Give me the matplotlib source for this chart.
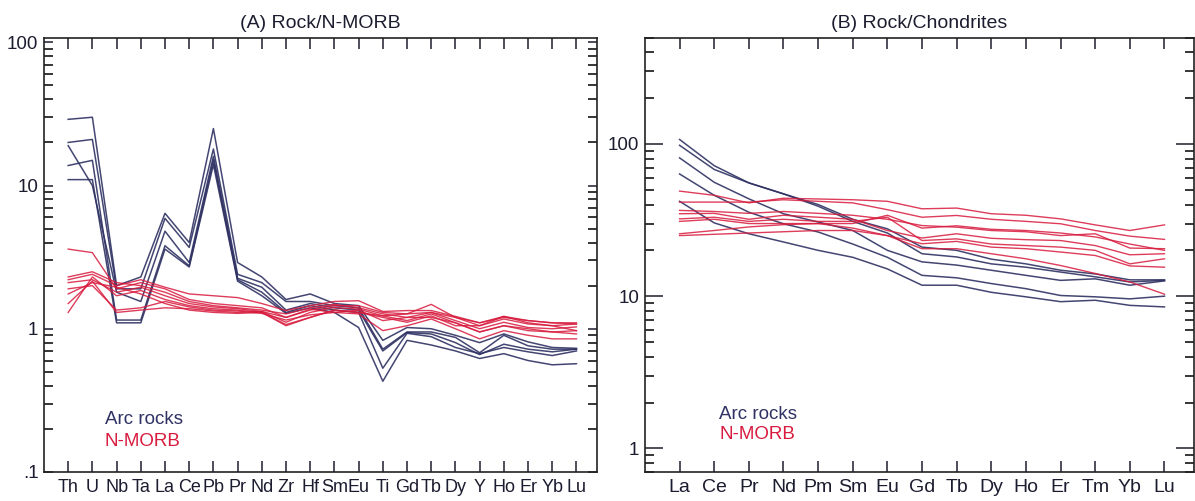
import matplotlib
matplotlib.use('Agg')
import matplotlib.pyplot as plt
from matplotlib.ticker import FixedLocator, FixedFormatter, LogLocator, NullFormatter
import numpy as np

plt.rcParams['font.family'] = ['Liberation Sans', 'DejaVu Sans']

navy = '#2f3263'
red = '#d81b3e'
txt = '#1c1c30'

# ---- (A) Rock/N-MORB ----
morb_elements = ['Th', 'U', 'Nb', 'Ta', 'La', 'Ce', 'Pb', 'Pr', 'Nd', 'Zr', 'Hf',
                 'Sm', 'Eu', 'Ti', 'Gd', 'Tb', 'Dy', 'Y', 'Ho', 'Er', 'Yb', 'Lu']

arc_morb = [
    [29, 30, 2.0, 2.3, 6.4, 4.0, 25, 2.9, 2.3, 1.6, 1.75, 1.5, 1.45, 0.83, 1.02, 1.0, 0.9, 0.8, 0.92, 0.81, 0.74, 0.73],
    [20, 21, 1.9, 1.9, 5.9, 3.7, 18, 2.4, 2.1, 1.55, 1.55, 1.45, 1.4, 0.72, 0.95, 0.95, 0.87, 0.68, 0.9, 0.76, 0.72, 0.72],
    [19, 10, 1.8, 1.55, 4.8, 2.9, 16, 2.25, 1.95, 1.35, 1.5, 1.4, 1.35, 0.7, 0.94, 0.92, 0.8, 0.66, 0.78, 0.72, 0.69, 0.72],
    [13.8, 15, 1.15, 1.15, 3.8, 2.75, 15, 2.2, 1.8, 1.3, 1.45, 1.35, 1.3, 0.53, 0.93, 0.88, 0.74, 0.67, 0.74, 0.69, 0.65, 0.70],
    [11, 11, 1.1, 1.1, 3.6, 2.7, 14, 2.15, 1.7, 1.28, 1.4, 1.3, 1.02, 0.43, 0.83, 0.77, 0.7, 0.62, 0.67, 0.6, 0.56, 0.57],
]

nmorb_morb = [
    [2.2, 2.4, 2.0, 2.2, 1.95, 1.75, 1.7, 1.65, 1.5, 1.34, 1.45, 1.55, 1.57, 1.32, 1.34, 1.34, 1.22, 1.1, 1.22, 1.14, 1.1, 1.1],
    [3.6, 3.4, 1.9, 2.1, 1.9, 1.6, 1.5, 1.45, 1.4, 1.2, 1.35, 1.45, 1.45, 1.3, 1.27, 1.48, 1.2, 1.05, 1.17, 1.08, 1.05, 1.08],
    [2.3, 2.5, 2.1, 2.0, 1.8, 1.55, 1.45, 1.4, 1.35, 1.27, 1.4, 1.48, 1.4, 1.27, 1.2, 1.3, 1.14, 1.0, 1.11, 1.02, 1.0, 1.03],
    [2.1, 2.2, 1.8, 1.95, 1.7, 1.5, 1.42, 1.38, 1.32, 1.11, 1.3, 1.41, 1.37, 1.23, 1.14, 1.27, 1.1, 0.95, 1.05, 0.97, 0.95, 0.97],
    [1.3, 2.3, 1.7, 1.85, 1.6, 1.45, 1.38, 1.35, 1.3, 1.05, 1.2, 1.35, 1.3, 1.2, 1.11, 1.23, 1.05, 1.05, 1.22, 1.1, 1.05, 0.97],
    [1.9, 2.0, 1.35, 1.4, 1.55, 1.42, 1.35, 1.33, 1.28, 1.15, 1.25, 1.3, 1.27, 0.97, 1.05, 1.17, 1.0, 0.85, 0.97, 0.9, 0.85, 0.85],
    [1.5, 2.15, 1.3, 1.35, 1.4, 1.38, 1.33, 1.3, 1.32, 1.2, 1.37, 1.3, 1.35, 1.14, 1.2, 1.2, 1.1, 0.95, 1.05, 1.0, 0.95, 0.92],
    [1.75, 2.1, 1.95, 1.75, 1.5, 1.35, 1.3, 1.28, 1.3, 1.07, 1.2, 1.35, 1.3, 1.23, 1.27, 1.3, 1.2, 1.1, 1.2, 1.14, 1.1, 1.08],
]

# ---- (B) Rock/Chondrites ----
ree_elements = ['La', 'Ce', 'Pr', 'Nd', 'Pm', 'Sm', 'Eu', 'Gd', 'Tb', 'Dy', 'Ho', 'Er', 'Tm', 'Yb', 'Lu']

arc_chon = [
    [107, 72, 55.5, 47, 40, 32, 27.7, 21, 20, 17.5, 16.3, 14.8, 14, 12.8, 12.8],
    [98, 68, 55.5, 47, 39, 31, 26, 19, 18.1, 16.3, 15.5, 14.4, 13.4, 12.4, 12.7],
    [81, 56, 43.6, 34.8, 30.7, 27, 20, 16.8, 16.0, 14.8, 13.7, 12.7, 13.0, 11.8, 12.6],
    [63.5, 46, 35.6, 29.9, 26.4, 22, 18, 13.7, 13.2, 12.1, 11.2, 10.1, 9.9, 9.6, 10.0],
    [42, 30.3, 25.7, 22.7, 20, 18, 15.1, 11.8, 11.8, 10.6, 9.9, 9.2, 9.4, 8.7, 8.5],
]

nmorb_chon = [
    [49, 46, 41, 44, 43.5, 43, 42, 37.5, 37.9, 34.8, 34, 32.2, 29.4, 27, 29.4],
    [41.5, 41.5, 41.5, 43, 42, 41, 37, 33, 33.9, 32, 31, 29.9, 27, 24.8, 23.6],
    [36.6, 36, 35, 36, 35, 34, 32, 29.1, 28.4, 27, 26.5, 25, 25.7, 20.7, 20.5],
    [34.8, 35, 32, 34, 33, 32, 27, 24.1, 25.7, 24, 23.5, 23.2, 21.5, 18.7, 19],
    [32.2, 33, 31, 32, 31, 31, 33, 23.2, 23.8, 22, 21.5, 21, 20, 16.3, 17.6],
    [31, 32, 30, 30, 30, 28, 25, 22.1, 22.9, 21, 20.5, 19.5, 18.5, 15.8, 15.5],
    [25.7, 27, 28.5, 29.5, 30, 30, 34, 28, 29, 27.5, 27, 26, 24.5, 22, 20],
    [25, 25.5, 26, 26.5, 27, 27, 25, 20.5, 20.5, 19, 17.6, 15.9, 14.1, 12.4, 10.3],
]

fig = plt.figure(figsize=(11.95, 5.01), dpi=100)
ax1 = fig.add_axes([0.0368, 0.058, 0.4628, 0.867])
ax2 = fig.add_axes([0.5397, 0.058, 0.4594, 0.867])


def style(ax, elements, ylim, majors, major_labels, major_len, xsize):
    ax.set_yscale('log')
    ax.set_xlim(-1, len(elements) - 1 + 0.85)
    ax.set_ylim(*ylim)
    ax.set_xticks(np.arange(len(elements)))
    ax.set_xticklabels(elements)
    ax.yaxis.set_major_locator(FixedLocator(majors))
    ax.yaxis.set_major_formatter(FixedFormatter(major_labels))
    ax.yaxis.set_minor_locator(LogLocator(base=10, subs=np.arange(2, 10), numticks=20))
    ax.yaxis.set_minor_formatter(NullFormatter())
    ax.tick_params(axis='x', which='both', direction='in', top=True, bottom=True,
                   length=8, width=1.1, pad=5, labelsize=xsize, colors=txt)
    ax.tick_params(axis='y', which='major', direction='in', left=True, right=True,
                   length=major_len, width=1.1, pad=4, labelsize=13.5, colors=txt)
    ax.tick_params(axis='y', which='minor', direction='in', left=True, right=True,
                   length=6.5, width=1.1)
    for s in ax.spines.values():
        s.set_linewidth(1.2)
        s.set_color('#222222')


x1 = np.arange(len(morb_elements))
for row in arc_morb:
    ax1.plot(x1, row, color=navy, lw=1.1, alpha=0.9)
for row in nmorb_morb:
    ax1.plot(x1, row, color=red, lw=1.0, alpha=0.85)

style(ax1, morb_elements, (0.1, 108), [0.1, 1, 10, 100], ['.1', '1', '10', '100'], 6.5, 13)
# the tick at 1 is drawn longer on the left side
for t in ax1.yaxis.get_major_ticks():
    if abs(t.get_loc() - 1) < 1e-9:
        t.tick1line.set_markersize(14)
ax1.set_title('(A) Rock/N-MORB', fontsize=14, color=txt, pad=7)
ax1.text(0.11, 0.11, 'Arc rocks', transform=ax1.transAxes, color=navy, fontsize=13.5)
ax1.text(0.11, 0.06, 'N-MORB', transform=ax1.transAxes, color=red, fontsize=13.5)

x2 = np.arange(len(ree_elements))
for row in arc_chon:
    ax2.plot(x2, row, color=navy, lw=1.1, alpha=0.9)
for row in nmorb_chon:
    ax2.plot(x2, row, color=red, lw=1.0, alpha=0.85)

style(ax2, ree_elements, (0.7, 500), [1, 10, 100], ['1', '10', '100'], 13, 14)
ax2.set_title('(B) Rock/Chondrites', fontsize=14, color=txt, pad=7)
ax2.text(0.135, 0.122, 'Arc rocks', transform=ax2.transAxes, color=navy, fontsize=13.5)
ax2.text(0.135, 0.076, 'N-MORB', transform=ax2.transAxes, color=red, fontsize=13.5)

fig.savefig('out.png', dpi=100)
